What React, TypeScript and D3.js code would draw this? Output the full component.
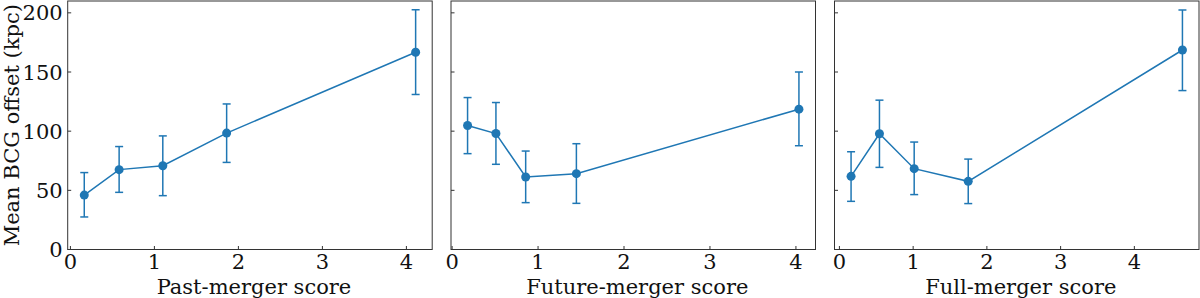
import React from "react";
import * as d3 from "d3";

// scores and mean BCG offsets (kpc)
const pastX = [0.165, 0.58, 1.1, 1.86, 4.11];
const pastY = [46, 67.5, 70.8, 98.4, 166.7];
const pastLo = [27.5, 48.3, 45.5, 73.6, 131];
const pastHi = [65, 87, 96, 123, 202.6];

const futureX = [0.18, 0.51, 0.856, 1.446, 4.035];
const futureY = [104.8, 98, 61.3, 64.1, 118.6];
const futureLo = [81, 72, 39.6, 39, 87.7];
const futureHi = [128.4, 124.2, 83.2, 89.4, 150];

const fullX = [0.158, 0.543, 1.014, 1.747, 4.652];
const fullY = [61.8, 97.8, 68.3, 57.6, 168.6];
const fullLo = [40.7, 69.4, 46.4, 38.8, 134.3];
const fullHi = [82.6, 126.2, 90.8, 76.4, 202.4];

const xTicks = [0, 1, 2, 3, 4];
const yTicks = [0, 50, 100, 150, 200];
const yDomain = [0, 210];

const panels = [
  { label: "Past-merger score", x: pastX, y: pastY, lo: pastLo, hi: pastHi },
  { label: "Future-merger score", x: futureX, y: futureY, lo: futureLo, hi: futureHi },
  { label: "Full-merger score", x: fullX, y: fullY, lo: fullLo, hi: fullHi },
];

const W = 1200;
const H = 298;
const top = 1;
const bottom = 249.5;
const panelW = 364.5;
const lefts = [67.7, 451, 834.5];
const blue = "#1f77b4";
const font = "DejaVu Serif";
const fs = 21;

function Panel({ p, left, first }: any) {
  // matplotlib-style 5% margins on x
  const [mn, mx] = d3.extent(p.x as number[]) as [number, number];
  const pad = (mx - mn) * 0.05;
  const x = d3.scaleLinear().domain([mn - pad, mx + pad]).range([left, left + panelW]);
  const y = d3.scaleLinear().domain(yDomain).range([bottom, top]);
  const pts = p.x.map((v: number, i: number) => [v, p.y[i]]);
  const line = d3.line<number[]>().x(d => x(d[0])).y(d => y(d[1]));

  return (
    <g>
      <path d={line(pts) || ""} fill="none" stroke={blue} strokeWidth={1.5} />
      {pts.map((d: number[], i: number) => {
        const cx = x(d[0]);
        return (
          <g key={i} stroke={blue} strokeWidth={1.5}>
            <line x1={cx} x2={cx} y1={y(p.lo[i])} y2={y(p.hi[i])} />
            <line x1={cx - 4} x2={cx + 4} y1={y(p.lo[i])} y2={y(p.lo[i])} />
            <line x1={cx - 4} x2={cx + 4} y1={y(p.hi[i])} y2={y(p.hi[i])} />
            <circle cx={cx} cy={y(d[1])} r={4.5} fill={blue} stroke="none" />
          </g>
        );
      })}
      <rect x={left} y={top} width={panelW} height={bottom - top} fill="none" stroke="#333" strokeWidth={1} />
      {xTicks.map(t => (
        <g key={t}>
          <line x1={x(t)} x2={x(t)} y1={bottom} y2={bottom - 3.5} stroke="#333" />
          <text x={x(t)} y={268.5} textAnchor="middle" fontSize={fs} fontFamily={font} fill="#111">{t}</text>
        </g>
      ))}
      {yTicks.map(t => (
        <g key={t}>
          <line x1={left} x2={left + 3.5} y1={y(t)} y2={y(t)} stroke="#333" />
          {first && (
            <text x={left - 5} y={y(t)} dy="0.36em" textAnchor="end" fontSize={fs} fontFamily={font} fill="#111">{t}</text>
          )}
        </g>
      ))}
      <text x={left + panelW / 2 + 4} y={293.5} textAnchor="middle" fontSize={fs} fontFamily={font} fill="#111">{p.label}</text>
    </g>
  );
}

export default function App() {
  return (
    <svg width={W} height={H} style={{ position: "absolute", left: 0, top: 0, background: "#fff" }}>
      {panels.map((p, i) => (
        <Panel key={i} p={p} left={lefts[i]} first={i === 0} />
      ))}
      <text
        transform={`translate(18.5, ${(top + bottom) / 2}) rotate(-90)`}
        textAnchor="middle"
        fontSize={fs}
        fontFamily={font}
        fill="#111"
      >
        Mean BCG offset (kpc)
      </text>
    </svg>
  );
}
